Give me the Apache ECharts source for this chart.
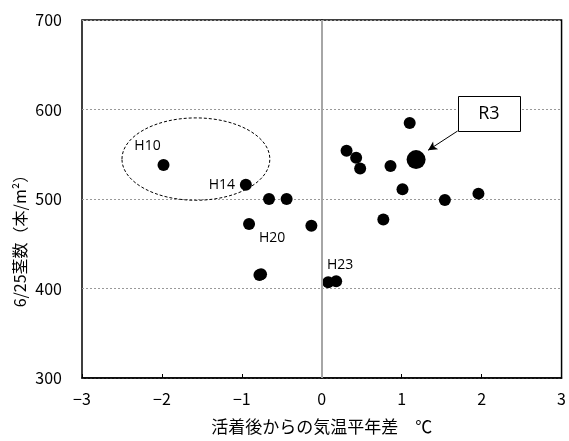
<!DOCTYPE html>
<html>
<head>
<meta charset="utf-8">
<script src="https://cdn.jsdelivr.net/npm/echarts@6/dist/echarts.min.js"></script>
<style>
  html, body { margin: 0; padding: 0; background: #fff; }
  #main { width: 569px; height: 441px; }
</style>
</head>
<body>
<div id="main"></div>
<script>
// 気温平年差 (x) と 6/25茎数 (y)
var xVals = [-1.98, -0.95, -0.66, -0.44, -0.91, -0.13, -0.78, -0.76, 0.08, 0.18,
             1.10, 0.31, 0.43, 0.48, 0.86, 1.01, 1.54, 1.96, 0.77];
var yVals = [538, 516, 500, 500, 472, 470, 415, 416, 407, 408,
             585, 554, 546, 534, 537, 511, 499, 506, 477];
var pointNames = ['H10', 'H14', '', '', 'H20', '', '', '', 'H23', '',
                  '', '', '', '', '', '', '', '', ''];
var r3 = [1.18, 544];
var xTicks = [-3, -2, -1, 0, 1, 2, 3];
var yTicks = [300, 400, 500, 600, 700];

var labelOffsets = { H10: [-16, -19], H14: [-24, 0], H20: [23, 14], H23: [12, -17] };

var font = '"Noto Sans CJK JP", "Noto Sans", sans-serif';
var latin = '"Open Sans", "Noto Sans", sans-serif';
var myChart = echarts.init(document.getElementById('main'));

var pts = xVals.map(function(x, i) {
  var item = { value: [x, yVals[i]] };
  var n = pointNames[i];
  if (n) {
    item.label = {
      show: true, formatter: n, position: 'inside',
      offset: labelOffsets[n], color: '#000', fontSize: 14, fontFamily: latin
    };
  }
  return item;
});

var option = {
  animation: false,
  grid: { left: 82, right: 2, top: 20, bottom: 63, show: true, borderColor: '#000', borderWidth: 1.5 },
  xAxis: {
    type: 'value', min: -3, max: 3, interval: 1,
    name: '活着後からの気温平年差　℃', nameLocation: 'middle', nameGap: 40,
    nameTextStyle: { fontSize: 17, color: '#000', fontFamily: font },
    axisLine: { onZero: false, lineStyle: { color: '#000', width: 1.5 } },
    axisTick: { show: true, inside: true, length: 4, lineStyle: { color: '#000' } },
    axisLabel: {
      margin: 13, fontSize: 16, color: '#000', fontFamily: font,
      formatter: function(v) { return String(v).replace('-', '−'); }
    },
    splitLine: { show: false }
  },
  yAxis: {
    type: 'value', min: 300, max: 700, interval: 100,
    axisLine: { show: true, lineStyle: { color: '#000', width: 1.5 } },
    axisTick: { show: false },
    axisLabel: { margin: 20, fontSize: 16, color: '#000', fontFamily: font },
    splitLine: { show: true, lineStyle: { color: '#999', type: [2, 2], width: 1 } }
  },
  series: [
    {
      type: 'scatter', data: pts, symbolSize: 12,
      itemStyle: { color: '#000', opacity: 1 },
      markLine: {
        silent: true, symbol: ['none', 'none'], label: { show: false },
        lineStyle: { color: '#a6a6a6', width: 2, type: 'solid' },
        data: [{ xAxis: 0 }]
      },
      z: 3
    },
    {
      type: 'scatter', data: [r3], symbolSize: 19,
      itemStyle: { color: '#000', opacity: 1 },
      markLine: {
        silent: true, symbol: ['none', 'arrow'], symbolSize: [7, 9],
        label: { show: false },
        lineStyle: { color: '#000', width: 1, type: 'solid' },
        data: [[{ coord: [1.70, 576] }, { coord: [1.33, 554.5] }]]
      },
      z: 4
    }
  ]
};
myChart.setOption(option);

// dashed ellipse around H10, R3 callout box and the y-axis title
var c = myChart.convertToPixel({ gridIndex: 0 }, [-1.575, 544.6]);
var c2 = myChart.convertToPixel({ gridIndex: 0 }, [-1.575 + 0.925, 544.6 - 46]);
var b1 = myChart.convertToPixel({ gridIndex: 0 }, [1.70, 615]);
var b2 = myChart.convertToPixel({ gridIndex: 0 }, [2.48, 576]);
myChart.setOption({
  graphic: [
    {
      type: 'ellipse', z: 10, silent: true,
      shape: { cx: c[0], cy: c[1], rx: c2[0] - c[0], ry: c2[1] - c[1] },
      style: { fill: 'none', stroke: '#000', lineWidth: 1, lineDash: [3, 2] }
    },
    {
      type: 'rect', z: 10, silent: true,
      shape: { x: Math.round(b1[0]) + 0.5, y: Math.round(b1[1]) + 0.5,
               width: Math.round(b2[0] - b1[0]), height: Math.round(b2[1] - b1[1]) },
      style: { fill: '#fff', stroke: '#000', lineWidth: 1 }
    },
    {
      type: 'text', z: 11, silent: true,
      x: (b1[0] + b2[0]) / 2, y: (b1[1] + b2[1]) / 2,
      style: { text: 'R3', fill: '#000', fontSize: 18, fontFamily: latin,
               align: 'center', verticalAlign: 'middle' }
    },
    {
      type: 'text', z: 10, silent: true,
      x: 20, y: 237, rotation: Math.PI / 2,
      style: {
        text: '6/25茎数（本/m²）', fill: '#000', fontSize: 16, fontFamily: font,
        align: 'center', verticalAlign: 'middle'
      }
    }
  ]
});
</script>
</body>
</html>
